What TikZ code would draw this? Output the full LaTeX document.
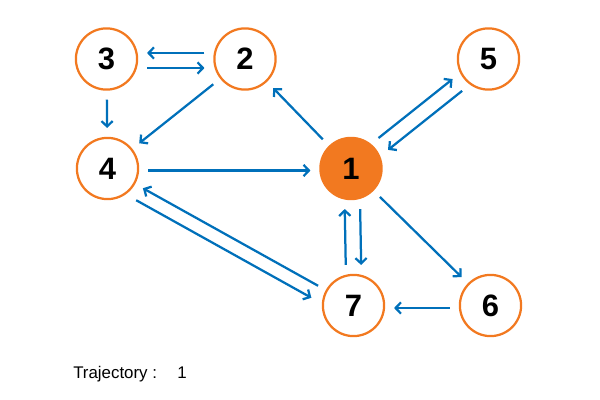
\documentclass[tikz,border=0pt]{standalone}
\usepackage{fontspec}
\setmainfont{Liberation Sans}
\usetikzlibrary{arrows.meta}
\definecolor{orng}{RGB}{242,121,32}
\definecolor{blu}{RGB}{0,112,186}
\begin{document}
\begin{tikzpicture}[x=0.025cm,y=-0.025cm,
  vtx/.style={circle,draw=orng,line width=1.6pt,minimum size=1.53cm,inner sep=0pt,
    font=\fontsize{22}{24}\selectfont\bfseries},
  arr/.style={draw=blu,line width=1.6pt,-{Straight Barb[length=3.8pt,width=8pt]},
    shorten >=0.22cm,shorten <=0.22cm},
  lbl/.style={anchor=base west,inner sep=0pt,font=\fontsize{12}{14}\selectfont}]
\useasboundingbox (0,0) rectangle (600,400);
\node[vtx] (n3) at (106.5,59) {3};
\node[vtx] (n2) at (245,59) {2};
\node[vtx] (n5) at (488.5,59) {5};
\node[vtx] (n4) at (107.5,168.5) {4};
\node[vtx,fill=orng] (n1) at (351,168.5) {1};
\node[vtx] (n7) at (353.5,305.5) {7};
\node[vtx] (n6) at (490.5,305.5) {6};
% edges
\draw[arr,transform canvas={yshift=0.15cm}] (n2) -- (n3);
\draw[arr,transform canvas={yshift=-0.225cm}] (n3) -- (n2);
\draw[arr] (n3) -- (n4);
\draw[arr] (n2) -- (n4);
\draw[arr,transform canvas={yshift=-0.05cm}] (n4) -- (n1);
\draw[arr] (n1) -- (n2);
\draw[arr,transform canvas={xshift=-0.105cm,yshift=0.13cm}] (n1) -- (n5);
\draw[arr,transform canvas={xshift=0.1325cm,yshift=-0.166cm}] (n5) -- (n1);
\draw[arr,transform canvas={xshift=-0.175cm}] (n7) -- (n1);
\draw[arr,transform canvas={xshift=0.21cm}] (n1) -- (n7);
\draw[arr] (n1) -- (n6);
\draw[arr,transform canvas={yshift=-0.0625cm}] (n6) -- (n7);
\draw[arr] (n7) -- (n4);
\draw[arr,transform canvas={xshift=-0.1675cm,yshift=-0.3cm}] (n4) -- (n7);
\node[lbl] (traj) at (73,378) {Trajectory :\hspace{10pt} 1};
\end{tikzpicture}
\end{document}
